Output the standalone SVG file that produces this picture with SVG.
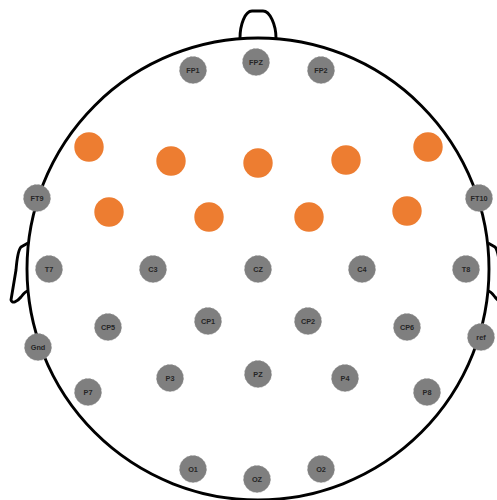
<svg xmlns="http://www.w3.org/2000/svg" width="497" height="500" viewBox="0 0 497 500">
<style>
.head{fill:none;stroke:#000;stroke-width:2.9;stroke-linejoin:round}
.g circle{fill:#7f7f7f;stroke:#999;stroke-width:0.6;stroke-dasharray:2 2}
.g text{font-family:"Liberation Sans",Arial,sans-serif;font-size:7.3px;font-weight:bold;fill:#262626;text-anchor:middle;dominant-baseline:central}
.o circle{fill:#ed7d31}
</style>
<rect width="497" height="500" fill="#fff"/>
<g id="head">
<circle class="head" cx="258" cy="269" r="231"/>
<path class="head" d="M240,38 C240,25 245,11 252,11 L263,11 C270,11 276,25 276,38"/>
<path class="head" d="M28,243 L21,247 C18,250 17,258 16,270 L11,300 C12,304 17,302 21,297 C24,293 26,291 28,291"/>
<path class="head" d="M488,243 L495,247 C498,250 499,258 500,270 L505,300 C504,304 499,302 495,297 C492,293 490,291 488,291"/>
</g>
<g id="connectors"></g>
<g id="FP1" class="g"><circle cx="193" cy="70" r="13.5"/><text x="193" y="70">FP1</text></g>
<g id="FPZ" class="g"><circle cx="256" cy="62" r="13.5"/><text x="256" y="62">FPZ</text></g>
<g id="FP2" class="g"><circle cx="321" cy="70" r="13.5"/><text x="321" y="70">FP2</text></g>
<g id="o1" class="o"><circle cx="89" cy="147" r="14.7"/></g>
<g id="o2" class="o"><circle cx="171" cy="161" r="14.7"/></g>
<g id="o3" class="o"><circle cx="258" cy="163" r="14.7"/></g>
<g id="o4" class="o"><circle cx="346" cy="160" r="14.7"/></g>
<g id="o5" class="o"><circle cx="428" cy="147" r="14.7"/></g>
<g id="o6" class="o"><circle cx="109" cy="212" r="14.7"/></g>
<g id="o7" class="o"><circle cx="209" cy="217" r="14.7"/></g>
<g id="o8" class="o"><circle cx="309" cy="217" r="14.7"/></g>
<g id="o9" class="o"><circle cx="407" cy="211" r="14.7"/></g>
<g id="FT9" class="g"><circle cx="37" cy="198" r="13.5"/><text x="37" y="198">FT9</text></g>
<g id="FT10" class="g"><circle cx="479" cy="198" r="13.5"/><text x="479" y="198">FT10</text></g>
<g id="T7" class="g"><circle cx="49" cy="269" r="13.5"/><text x="49" y="269">T7</text></g>
<g id="C3" class="g"><circle cx="153" cy="269" r="13.5"/><text x="153" y="269">C3</text></g>
<g id="CZ" class="g"><circle cx="258" cy="269" r="13.5"/><text x="258" y="269">CZ</text></g>
<g id="C4" class="g"><circle cx="362" cy="269" r="13.5"/><text x="362" y="269">C4</text></g>
<g id="T8" class="g"><circle cx="466" cy="269" r="13.5"/><text x="466" y="269">T8</text></g>
<g id="CP5" class="g"><circle cx="108" cy="327" r="13.5"/><text x="108" y="327">CP5</text></g>
<g id="CP1" class="g"><circle cx="208" cy="321" r="13.5"/><text x="208" y="321">CP1</text></g>
<g id="CP2" class="g"><circle cx="308" cy="321" r="13.5"/><text x="308" y="321">CP2</text></g>
<g id="CP6" class="g"><circle cx="407" cy="327" r="13.5"/><text x="407" y="327">CP6</text></g>
<g id="ref" class="g"><circle cx="481" cy="337" r="13.5"/><text x="481" y="337">ref</text></g>
<g id="Gnd" class="g"><circle cx="38" cy="347" r="13.5"/><text x="38" y="347">Gnd</text></g>
<g id="P3" class="g"><circle cx="170" cy="378" r="13.5"/><text x="170" y="378">P3</text></g>
<g id="PZ" class="g"><circle cx="258" cy="374" r="13.5"/><text x="258" y="374">PZ</text></g>
<g id="P4" class="g"><circle cx="345" cy="378" r="13.5"/><text x="345" y="378">P4</text></g>
<g id="P7" class="g"><circle cx="88" cy="392" r="13.5"/><text x="88" y="392">P7</text></g>
<g id="P8" class="g"><circle cx="427" cy="392" r="13.5"/><text x="427" y="392">P8</text></g>
<g id="O1" class="g"><circle cx="193" cy="469" r="13.5"/><text x="193" y="469">O1</text></g>
<g id="OZ" class="g"><circle cx="257" cy="479" r="13.5"/><text x="257" y="479">OZ</text></g>
<g id="O2" class="g"><circle cx="321" cy="469" r="13.5"/><text x="321" y="469">O2</text></g>
</svg>
